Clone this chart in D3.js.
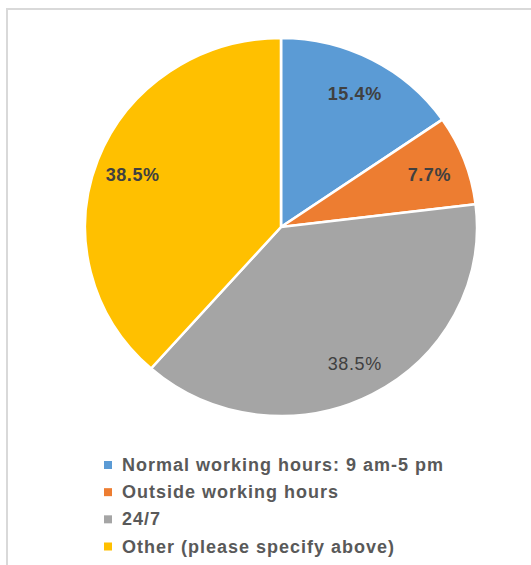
<!DOCTYPE html>
<html><head><meta charset="utf-8">
<script src="https://cdn.jsdelivr.net/npm/d3@7"></script>
<style>html,body{margin:0;padding:0;background:#fff;}svg{display:block;}</style>
</head><body><svg id="c" width="531" height="565"></svg>
<script>
const categories = ["Normal working hours: 9 am-5 pm","Outside working hours","24/7","Other (please specify above)"];
const values = [2, 1, 5, 5];
const labels = ["15.4%","7.7%","38.5%","38.5%"];
const colors = ["#5b9bd5","#ed7d31","#a5a5a5","#ffc000"];

const svg = d3.select("#c");
svg.append("path").attr("d","M7,570 L7,9 L540,9").attr("fill","none").attr("stroke","#d9d9d9").attr("stroke-width",2);

const cx = 281, cy = 227, ry = 189, rx = 196;
const g = svg.append("g").attr("transform",`translate(${cx},${cy}) scale(${rx/ry},1)`);
const pie = d3.pie().sort(null).value(d=>d)(values);
const arc = d3.arc().innerRadius(0).outerRadius(ry);
const labelArc = d3.arc().innerRadius(153).outerRadius(153);
g.selectAll("path.s").data(pie).join("path").attr("class","s")
  .attr("d",arc).attr("fill",(d,i)=>colors[i]).attr("stroke","#fff").attr("stroke-width",2.5).attr("stroke-linejoin","round");

const lg = svg.append("g").attr("transform",`translate(${cx},${cy})`);
lg.selectAll("text").data(pie).join("text")
  .attr("x",d=>labelArc.centroid(d)[0]*rx/ry).attr("y",d=>labelArc.centroid(d)[1]+2)
  .attr("text-anchor","middle").attr("dominant-baseline","central")
  .attr("font-family","Liberation Sans, Arial, sans-serif").attr("font-size",18).attr("letter-spacing",0.6)
  .attr("font-weight",(d,i)=>i===2?400:700).attr("fill","#404040")
  .text((d,i)=>labels[i]);

const y = d3.scalePoint().domain(categories).range([465,546.5]);
const leg = svg.append("g");
const rows = leg.selectAll("g").data(categories).join("g").attr("transform",d=>`translate(104,${y(d)})`);
rows.append("rect").attr("x",0).attr("y",-4).attr("width",8).attr("height",8).attr("fill",(d,i)=>colors[i]);
rows.append("text").attr("x",18).attr("y",0).attr("dominant-baseline","central")
  .attr("font-family","Liberation Sans, Arial, sans-serif").attr("font-size",18).attr("font-weight",700)
  .attr("letter-spacing",1).attr("fill","#595959").text(d=>d);
</script></body></html>
